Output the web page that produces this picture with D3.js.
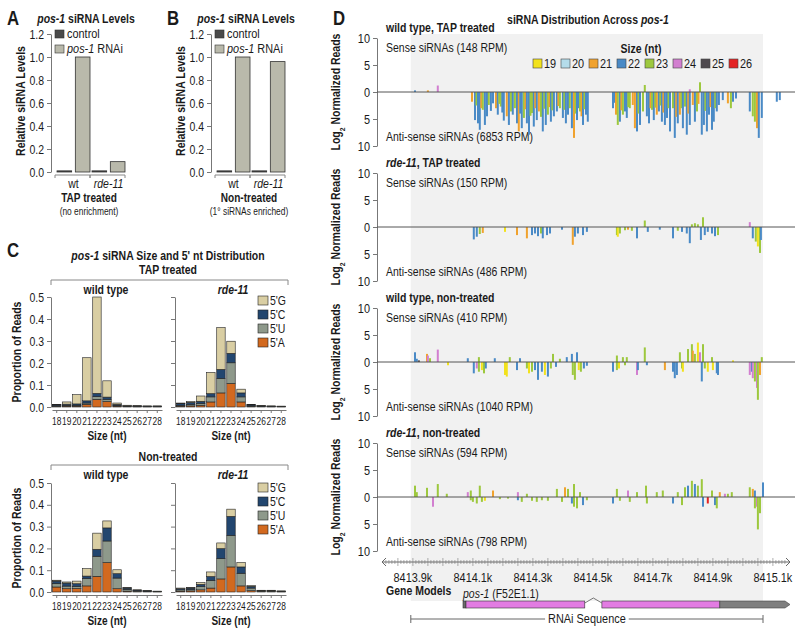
<!DOCTYPE html>
<html><head><meta charset="utf-8">
<script src="https://cdn.jsdelivr.net/npm/d3@7"></script>
<style>
body{margin:0;background:#fff}
svg{display:block}
text{font-family:'Liberation Sans',Arial,sans-serif;fill:#1a1a1a}
</style>
</head><body><svg id="c" width="800" height="631"></svg>
<script>
// ---------------- DATA ----------------
// Panels A/B
const levelGroups = ["wt", "rde-11"];
const levelSeries = ["control", "pos-1 RNAi"];
const levelsTAP = [[0.01, 1.0], [0.01, 0.09]];
const levelsNT = [[0.01, 1.0], [0.01, 0.96]];
const levelTicks = [0, 0.2, 0.4, 0.6, 0.8, 1.0, 1.2];

// Panel C (proportion of reads by size; stacked 5' nt)
const sizesNt = [18, 19, 20, 21, 22, 23, 24, 25, 26, 27, 28];
const propTicks = [0, 0.1, 0.2, 0.3, 0.4, 0.5];
const wtTAP_A = [0.003,0.004,0.004,0.012,0.035,0.025,0.004,0.002,0.001,0.001,0.001];
const wtTAP_U = [0.003,0.004,0.004,0.006,0.012,0.010,0.003,0.002,0.001,0.001,0.001];
const wtTAP_C = [0.004,0.005,0.006,0.010,0.015,0.010,0.005,0.002,0.002,0.002,0.002];
const wtTAP_G = [0.002,0.010,0.042,0.196,0.438,0.074,0.006,0.002,0.002,0.001,0.001];
const rdeTAP_A = [0.004,0.005,0.008,0.023,0.064,0.107,0.023,0.003,0.002,0.001,0.001];
const rdeTAP_U = [0.004,0.006,0.008,0.023,0.066,0.094,0.023,0.003,0.002,0.001,0.001];
const rdeTAP_C = [0.007,0.010,0.010,0.015,0.041,0.043,0.018,0.004,0.002,0.002,0.001];
const rdeTAP_G = [0.003,0.004,0.024,0.096,0.190,0.055,0.017,0.002,0.001,0.001,0.001];
const wtNT_A = [0.023,0.015,0.016,0.028,0.072,0.135,0.015,0.004,0.002,0.002,0.001];
const wtNT_U = [0.015,0.012,0.010,0.034,0.092,0.099,0.049,0.008,0.004,0.002,0.001];
const wtNT_C = [0.012,0.014,0.012,0.011,0.032,0.060,0.020,0.006,0.003,0.002,0.001];
const wtNT_G = [0.004,0.005,0.012,0.034,0.074,0.032,0.018,0.002,0.001,0.001,0.001];
const rdeNT_A = [0.004,0.005,0.010,0.018,0.060,0.115,0.028,0.006,0.002,0.002,0.001];
const rdeNT_U = [0.006,0.006,0.015,0.035,0.093,0.145,0.058,0.012,0.003,0.003,0.002];
const rdeNT_C = [0.006,0.007,0.010,0.018,0.046,0.087,0.029,0.008,0.002,0.002,0.001];
const rdeNT_G = [0.002,0.002,0.008,0.021,0.026,0.033,0.020,0.003,0.001,0.001,0.001];

// Panel D: siRNA reads along pos-1; [offset from 8413900 bp, signed log2 reads, size nt]
const GENOME_START = 8413900;
const genomeDomain = [8413797, 8415157];
const coordTicks = [8413900, 8414100, 8414300, 8414500, 8414700, 8414900, 8415100];
const readTicks = [-10, -5, 0, 5, 10];
const legendSizes = [19, 20, 21, 22, 23, 24, 25, 26];
const senseRPM = [148, 150, 410, 594];
const antiRPM = [6853, 486, 1040, 798];
const readsWtTAP = [
[7,0.3,22],[50,0.3,21],[83,1.2,24],
[197,-1.8,21],[207,-5.2,22],[212,-2.5,23],[217,-5.8,22],[223,-7.0,22],[228,-3.0,21],[233,-3.3,23],[240,-6.1,22],[247,-4.5,22],[253,-2.4,23],[260,-3.5,22],[267,-2.1,22],[277,-3.0,21],[283,-4.2,22],[288,-2.2,23],[293,-2.7,23],[298,-3.8,22],[303,-5.3,22],[313,-4.5,21],[320,-6.1,22],[327,-3.6,23],[333,-4.2,22],[340,-3.0,23],[347,-5.8,22],[353,-7.3,21],[358,-4.0,22],[363,-6.7,22],[370,-4.8,23],[375,-3.2,21],[380,-5.8,22],[387,-7.9,22],[392,-4.4,23],[397,-3.9,23],[403,-6.4,22],[408,-3.0,21],[413,-5.2,22],[420,-3.6,21],[427,-4.6,23],[433,-7.3,22],[438,-3.1,23],[443,-6.1,22],[450,-4.2,23],[455,-2.8,21],[460,-5.5,22],[465,-3.4,23],[470,-4.5,22],[480,-3.6,22],[485,-2.6,21],[490,-3.0,23],[500,-4.8,22],[505,-3.3,23],[510,-5.8,22],[517,-4.2,22],[523,-3.0,23],[530,-6.7,22],[537,-8.5,21],[542,-4.0,23],[547,-5.2,22],[552,-3.0,22],[557,-3.6,23],[562,-4.5,21],[567,-6.1,22],[572,-3.2,23],[577,-4.2,22],[583,-5.5,22],
[667,-3.0,22],[672,-2.0,22],[677,-4.2,21],[683,-6.1,23],[690,-5.5,22],[695,-3.4,21],[700,-4.2,23],[707,-3.6,22],[713,-4.8,22],[718,-2.8,23],[723,-3.0,23],[733,-2.4,21],[740,-6.7,21],[747,-7.3,22],[752,-4.0,23],[757,-6.1,22],[767,-3.6,23],[773,1.3,23],[780,-4.5,22],[787,-5.8,22],[792,-3.0,21],[797,-3.3,23],[803,-5.2,22],[808,-2.9,23],[813,-4.2,21],[820,-3.6,22],[825,-2.5,23],[830,-5.5,22],[835,-3.8,21],[840,-6.1,22],[847,-4.8,22],[852,-3.0,23],[857,-7.3,22],[867,-3.0,23],[873,-8.5,22],[878,-4.6,21],[883,-5.8,22],[890,-4.2,21],[895,-3.0,23],[900,-6.7,22],[907,-2.7,23],[913,-7.9,22],[918,-4.0,21],[923,-6.1,22],[923,0.5,24],[933,-2.4,21],[940,-5.5,22],[947,-3.6,23],[952,-2.2,21],[957,1.8,23],[963,-7.9,22],[970,-6.1,22],[975,-3.5,23],[980,-7.3,22],[987,-4.2,22],[992,-2.8,21],[997,-7.0,22],[1003,-5.5,22],[1008,-3.0,23],[1013,-3.6,22],[1020,-2.4,22],[1033,-1.5,22],[1050,-2.1,21],[1060,-3.0,23],[1067,-1.8,22],[1077,-1.2,22],[1123,-3.6,22],[1133,-4.5,23],[1140,-5.5,23],[1147,-6.7,21],[1153,-8.5,22],[1163,-4.8,22],[1213,-1.8,22],[1223,-1.5,22]
];
const readsRdeTAP = [
[203,-2.3,22],[213,-1.8,22],[223,-1.3,23],[233,-1.1,21],[307,-0.9,19],[347,-1.5,21],[380,-2.1,21],[397,-1.5,22],[407,-1.2,22],[417,-1.7,22],[427,-1.2,23],[433,-2.1,22],[447,-1.5,22],[457,-1.2,22],[497,-0.5,22],[533,-3.3,21],[540,-1.8,22],[550,-1.2,22],[567,-1.5,22],[580,-0.9,22],[680,-1.5,23],[683,-1.8,19],[690,-1.2,23],[707,-0.6,23],[717,-0.5,21],[730,-0.7,23],[747,-2.1,22],[773,1.2,23],[783,-0.9,22],[823,-0.5,22],[867,-2.1,22],[883,-0.7,23],[897,-0.9,22],[913,-1.2,22],[923,-3.0,22],[930,0.5,23],[940,0.7,23],[950,0.5,23],[960,-2.4,22],[967,1.8,23],[973,-1.5,22],[983,-0.9,22],[997,-1.2,22],[1007,-1.7,22],[1017,-1.5,23],[1123,0.9,24],[1133,-2.1,22],[1143,-2.7,23],[1150,-3.6,19],[1157,-4.8,23],[1160,-2.4,22]
];
const readsWtNT = [
[7,1.8,22],[13,0.6,22],[20,0.3,25],[47,1.5,21],[50,1.2,24],[57,0.7,23],[83,2.3,24],[117,-0.6,19],[183,0.7,22],[203,-2.1,22],[213,-1.2,24],[220,-1.8,23],[220,0.9,23],[230,-1.5,19],[237,-2.1,23],[243,-1.2,22],[273,0.7,22],[307,-2.4,19],[313,-2.7,19],[323,0.9,23],[347,-1.5,22],[357,0.7,22],[380,-1.2,23],[387,-2.1,19],[397,-1.8,23],[407,-1.5,22],[417,-3.3,22],[430,-1.8,22],[440,-2.4,19],[450,-2.7,22],[460,-1.2,23],[467,1.5,23],[477,-0.9,22],[490,0.6,23],[513,0.9,22],[530,1.5,22],[533,-2.4,23],[540,-3.3,23],[547,1.8,22],[553,-1.5,19],[560,-1.8,23],[570,-1.2,22],[580,-0.7,22],[667,-1.8,22],[680,1.2,23],[680,-1.5,23],[687,-1.2,19],[700,0.9,23],[707,-0.6,23],[713,0.9,23],[747,-2.4,24],[750,-1.5,22],[773,2.7,23],[780,-0.6,22],[840,-1.5,21],[867,-1.8,22],[873,-3.0,22],[880,-2.4,22],[890,1.8,23],[897,-1.2,23],[900,-1.8,19],[917,2.4,23],[930,3.3,23],[933,2.1,21],[940,1.5,23],[950,3.6,19],[957,1.8,24],[963,-3.6,22],[967,3.3,23],[973,-1.2,23],[983,-1.8,19],[997,0.9,23],[1000,-1.5,19],[1013,-2.1,22],[1017,-2.4,22],[1067,0.3,19],[1123,-2.4,24],[1130,-1.8,22],[1133,-3.0,24],[1140,-3.6,23],[1147,-4.8,24],[1150,-7.0,23],[1157,-2.4,21],[1163,0.9,23]
];
const readsRdeNT = [
[7,2.1,23],[13,0.9,23],[47,1.7,23],[67,-1.8,24],[83,2.4,23],[113,0.6,23],[183,0.9,24],[193,1.2,23],[193,-0.6,23],[200,-0.9,23],[213,-1.2,23],[223,2.1,23],[230,-0.9,23],[240,-0.7,19],[267,1.2,21],[290,-0.4,23],[317,-0.3,23],[350,0.9,24],[350,-0.6,22],[363,-0.9,23],[380,0.6,23],[397,-0.7,23],[413,-0.9,23],[430,-0.6,23],[450,-0.7,23],[480,1.5,23],[497,-0.9,23],[507,1.8,21],[517,1.5,23],[530,-1.2,22],[537,2.4,23],[537,-1.8,23],[547,-2.1,23],[557,0.9,23],[567,-1.5,22],[580,-0.6,23],[667,-1.2,22],[680,1.5,23],[690,-0.7,23],[717,1.2,24],[723,-0.9,23],[747,0.9,23],[777,2.1,23],[780,-1.2,23],[813,0.9,23],[833,1.2,23],[867,-1.2,22],[883,0.9,23],[897,-1.5,23],[907,1.8,23],[917,2.1,22],[930,3.0,23],[940,2.4,22],[950,2.1,23],[963,3.3,23],[967,-1.8,22],[983,-1.2,26],[997,1.2,23],[1007,-1.5,22],[1013,-2.1,23],[1023,0.9,21],[1040,0.6,24],[1050,0.6,23],[1063,0.9,23],[1123,1.8,23],[1133,1.5,21],[1140,1.2,22],[1140,-2.1,23],[1147,-1.8,24],[1150,-6.0,23],[1157,-3.0,23],[1167,2.7,22]
];
// Gene model (offsets from GENOME_START)
const geneUTR5 = [167, 177];
const geneExons = [[177, 573], [630, 1023]];
const geneIntron = [573, 630];
const geneUTR3 = [1023, 1257];
const rnaiRegion = [-7, 1167];

// ---------------- DRAW ----------------
const svg = d3.select("#c");
const FF = "'Liberation Sans',Arial,sans-serif";
const SX = 0.84; // horizontal condensing of the narrow figure font
function rich(g, x, y, parts, o = {}) {
  const tr = `translate(${x},${y})` + (o.rotate ? " rotate(-90)" : "") + ` scale(${SX},1)`;
  const t = g.append("text").attr("x", 0).attr("y", 0).attr("transform", tr)
    .attr("font-size", o.size || 12).attr("text-anchor", o.anchor || "start")
    .attr("font-weight", o.weight || "normal");
  parts.forEach(p => {
    const s = t.append("tspan").text(p[0]);
    const st = p[1] || "";
    if (st.includes("i")) s.attr("font-style", "italic");
    if (st.includes("b")) s.attr("font-weight", "bold");
    if (st.includes("s")) s.attr("baseline-shift", "sub").attr("font-size", (o.size || 12) * 0.65);
  });
  return t;
}
function styleAxis(sel, fs) {
  sel.selectAll("text").attr("font-size", fs).attr("font-family", FF).attr("fill", "#1a1a1a")
    .each(function () {
      const t = d3.select(this);
      const x = +t.attr("x") || 0;
      t.attr("x", x / SX).attr("transform", `scale(${SX},1)`);
    });
  sel.selectAll("line").attr("stroke", "#777");
  sel.selectAll("path.domain").attr("stroke", "#777");
}
function bracket(g, x1, x2, y, h) {
  g.append("path").attr("d", `M${x1},${y + h}V${y}H${x2}V${y + h}`)
    .attr("fill", "none").attr("stroke", "#888").attr("stroke-width", 1);
}

// ---- Panels A & B ----
function levelPanel(ox, letter, vals, sub1, sub2) {
  const g = svg.append("g").attr("transform", `translate(${ox},0)`);
  rich(g, 7, 25, [[letter, "b"]], { size: 20 });
  rich(g, 86, 23, [["pos-1", "bi"], [" siRNA Levels", "b"]], { size: 12.5, anchor: "middle" });
  const y = d3.scaleLinear().domain([0, 1.2]).range([172, 34]);
  const ax = g.append("g").attr("transform", "translate(51,0)")
    .call(d3.axisLeft(y).tickValues(levelTicks).tickFormat(d3.format(".1f")).tickSize(4).tickSizeOuter(0).tickPadding(3));
  styleAxis(ax, 12.5);
  rich(g, 25, 101, [["Relative siRNA Levels", "b"]], { size: 12.5, anchor: "middle", rotate: true });
  const x0 = d3.scaleBand().domain(levelGroups).range([56, 126]);
  const x1 = d3.scaleBand().domain(levelSeries).range([1, 34]).paddingInner(0.2);
  const fills = ["#4a4a4a", "#b9b9ab"];
  levelGroups.forEach((grp, gi) => {
    levelSeries.forEach((s, si) => {
      g.append("rect").attr("x", x0(grp) + x1(s)).attr("width", x1.bandwidth())
        .attr("y", y(vals[gi][si])).attr("height", y(0) - y(vals[gi][si]))
        .attr("fill", fills[si]).attr("stroke", "#333").attr("stroke-width", 0.8);
    });
    bracket(g, x0(grp) - 1, x0(grp) + x0.bandwidth() - 1, 175, 3);
    rich(g, x0(grp) + x0.bandwidth() / 2, 188, [[grp, gi ? "i" : ""]], { size: 12.5, anchor: "middle" });
  });
  // legend
  levelSeries.forEach((s, si) => {
    const ly = 30 + si * 15;
    g.append("rect").attr("x", 55).attr("y", ly).attr("width", 9).attr("height", 8)
      .attr("fill", fills[si]).attr("stroke", "#333").attr("stroke-width", 0.6);
    const parts = si ? [["pos-1", "i"], [" RNAi", ""]] : [["control", ""]];
    rich(g, 67, ly + 8, parts, { size: 13 });
  });
  rich(g, 89, 202, [[sub1, "b"]], { size: 12, anchor: "middle" });
  rich(g, 89, 215, sub2, { size: 10, anchor: "middle" });
}
levelPanel(0, "A", levelsTAP, "TAP treated", [["(no enrichment)", ""]]);
levelPanel(160, "B", levelsNT, "Non-treated", [["(1° siRNAs enriched)", ""]]);

// ---- Panel C ----
const nucKeys = ["A", "U", "C", "G"];
const nucColors = { A: "#d2691f", U: "#8e998b", C: "#22466f", G: "#d9cea3" };
function makeRows(A, U, C, G) {
  return sizesNt.map((s, i) => ({ size: s, A: A[i], U: U[i], C: C[i], G: G[i] }));
}
const stack = d3.stack().keys(nucKeys);
function stackPlot(g, ox, y, axisY, rows, labels) {
  const x = d3.scaleBand().domain(sizesNt).range([ox + 1, ox + 111]).paddingInner(0.16).paddingOuter(0.05);
  const ax = g.append("g").attr("transform", `translate(${ox},0)`)
    .call(d3.axisLeft(y).tickValues(propTicks).tickFormat(labels ? d3.format(".1f") : "").tickSize(4).tickSizeOuter(0).tickPadding(3));
  styleAxis(ax, 12.5);
  const series = stack(rows);
  series.forEach(s => {
    g.selectAll(null).data(s).join("rect")
      .attr("x", d => x(d.data.size)).attr("width", x.bandwidth())
      .attr("y", d => y(d[1])).attr("height", d => Math.max(0, y(d[0]) - y(d[1])))
      .attr("fill", nucColors[s.key]).attr("stroke", "#222").attr("stroke-width", 0.6);
  });
  const bx = g.append("g").attr("transform", `translate(0,${axisY})`)
    .call(d3.axisBottom(x).tickSize(3).tickSizeOuter(0).tickPadding(5));
  styleAxis(bx, 10);
  rich(g, ox + 56, axisY + 30, [["Size (nt)", "b"]], { size: 12, anchor: "middle" });
}
function nucLegend(g, top) {
  ["G", "C", "U", "A"].forEach((k, i) => {
    g.append("rect").attr("x", 258).attr("y", top + i * 14).attr("width", 10).attr("height", 9)
      .attr("fill", nucColors[k]).attr("stroke", "#222").attr("stroke-width", 0.6);
    rich(g, 270, top + i * 14 + 9, [["5'" + k, ""]], { size: 12.5 });
  });
}
{
  const g = svg.append("g");
  rich(g, 7, 257, [["C", "b"]], { size: 20 });
  rich(g, 168, 260, [["pos-1", "bi"], [" siRNA Size and 5' nt Distribution", "b"]], { size: 12.5, anchor: "middle" });
  // TAP treated
  rich(g, 168, 274, [["TAP treated", "b"]], { size: 12.5, anchor: "middle" });
  bracket(g, 51, 288, 280, 5);
  rich(g, 106, 294, [["wild type", "b"]], { size: 12.5, anchor: "middle" });
  rich(g, 233, 294, [["rde-11", "bi"]], { size: 12.5, anchor: "middle" });
  const yT = d3.scaleLinear().domain([0, 0.5]).range([407, 297]);
  stackPlot(g, 51, yT, 410, makeRows(wtTAP_A, wtTAP_U, wtTAP_C, wtTAP_G), true);
  stackPlot(g, 175, yT, 410, makeRows(rdeTAP_A, rdeTAP_U, rdeTAP_C, rdeTAP_G), false);
  rich(g, 21, 352, [["Proportion of Reads", "b"]], { size: 12.5, anchor: "middle", rotate: true });
  nucLegend(g, 296);
  // Non-treated
  rich(g, 168, 461, [["Non-treated", "b"]], { size: 12.5, anchor: "middle" });
  bracket(g, 51, 288, 465, 5);
  rich(g, 106, 479, [["wild type", "b"]], { size: 12.5, anchor: "middle" });
  rich(g, 233, 479, [["rde-11", "bi"]], { size: 12.5, anchor: "middle" });
  const yN = d3.scaleLinear().domain([0, 0.5]).range([592, 483]);
  stackPlot(g, 51, yN, 595, makeRows(wtNT_A, wtNT_U, wtNT_C, wtNT_G), true);
  stackPlot(g, 175, yN, 595, makeRows(rdeNT_A, rdeNT_U, rdeNT_C, rdeNT_G), false);
  rich(g, 21, 538, [["Proportion of Reads", "b"]], { size: 12.5, anchor: "middle", rotate: true });
  nucLegend(g, 483);
}

// ---- Panel D ----
const sizeColors = { 19: "#f2e21c", 20: "#b4dcea", 21: "#f0a22e", 22: "#4a8ac6", 23: "#9dc83e", 24: "#d27fd0", 25: "#4f4a4f", 26: "#e32424" };
const gx = d3.scaleLinear().domain(genomeDomain).range([382, 790]);
{
  const g = svg.append("g");
  // shaded RNAi region
  g.append("rect").attr("x", gx(GENOME_START + rnaiRegion[0])).attr("y", 34)
    .attr("width", gx(GENOME_START + rnaiRegion[1]) - gx(GENOME_START + rnaiRegion[0])).attr("height", 567)
    .attr("fill", "#f1f1f1");
  rich(g, 333, 25, [["D", "b"]], { size: 20 });
  rich(g, 588, 24, [["siRNA Distribution Across ", "b"], ["pos-1", "bi"]], { size: 12.5, anchor: "middle" });
  const titles = [
    [["wild type, TAP treated", "b"]],
    [["rde-11", "bi"], [", TAP treated", "b"]],
    [["wild type, non-treated", "b"]],
    [["rde-11", "bi"], [", non-treated", "b"]]
  ];
  const tracks = [readsWtTAP, readsRdeTAP, readsWtNT, readsRdeNT];
  const zeros = [92, 227, 362, 497];
  tracks.forEach((reads, ti) => {
    const z = zeros[ti];
    const y = d3.scaleLinear().domain([-10, 10]).range([z + 54, z - 54]);
    const ax = g.append("g").attr("transform", "translate(377,0)")
      .call(d3.axisLeft(y).tickValues(readTicks).tickFormat(d => Math.abs(d)).tickSize(4).tickSizeOuter(0).tickPadding(3));
    styleAxis(ax, 13);
    rich(g, 340, z, [["Log", "b"], ["2", "bs"], [" Normalized Reads", "b"]], { size: 12.5, anchor: "middle", rotate: true });
    rich(g, 386, z - 60, titles[ti], { size: 12.5 });
    rich(g, 386, z - 40, [[`Sense siRNAs (${senseRPM[ti]} RPM)`, ""]], { size: 12.5 });
    rich(g, 386, z + 49, [[`Anti-sense siRNAs (${antiRPM[ti]} RPM)`, ""]], { size: 12.5 });
    g.selectAll(null).data(reads).join("rect")
      .attr("x", d => gx(GENOME_START + d[0]) - 1).attr("width", 2)
      .attr("y", d => Math.min(y(d[1]), y(0))).attr("height", d => Math.abs(y(d[1]) - y(0)))
      .attr("fill", d => sizeColors[d[2]]);
    g.append("line").attr("x1", 377).attr("x2", 795).attr("y1", y(0)).attr("y2", y(0))
      .attr("stroke", "#555").attr("stroke-width", 1);
  });
  // size legend
  rich(g, 641, 53, [["Size (nt)", "b"]], { size: 12.5, anchor: "middle" });
  legendSizes.forEach((s, i) => {
    const lx = 533 + i * 28;
    g.append("rect").attr("x", lx).attr("y", 59).attr("width", 9).attr("height", 9)
      .attr("fill", sizeColors[s]).attr("stroke", "#444").attr("stroke-width", 0.6);
    rich(g, lx + 11, 68, [[String(s), ""]], { size: 13 });
  });
  // coordinate ruler
  const ry = 562;
  g.append("line").attr("x1", 383).attr("x2", 789).attr("y1", ry).attr("y2", ry).attr("stroke", "#666");
  const minor = d3.range(8413810, 8415150, 10);
  g.selectAll(null).data(minor).join("line")
    .attr("x1", d => gx(d)).attr("x2", d => gx(d))
    .attr("y1", d => d % 50 === 0 ? ry - 4 : ry - 2).attr("y2", d => d % 50 === 0 ? ry + 4 : ry + 2)
    .attr("stroke", "#777").attr("stroke-width", 0.6);
  g.append("path").attr("d", `M${gx(genomeDomain[0]) + 4},${ry - 4}L${gx(genomeDomain[0])},${ry}L${gx(genomeDomain[0]) + 4},${ry + 4}`)
    .attr("fill", "none").attr("stroke", "#666");
  g.append("path").attr("d", `M${gx(genomeDomain[1]) - 4},${ry - 4}L${gx(genomeDomain[1])},${ry}L${gx(genomeDomain[1]) - 4},${ry + 4}`)
    .attr("fill", "none").attr("stroke", "#666");
  coordTicks.forEach(v => {
    rich(g, gx(v), 582, [[(v / 1000).toFixed(1) + "k", ""]], { size: 13, anchor: "middle" });
  });
  rich(g, 386, 595, [["Gene Models", "b"]], { size: 12.5 });
  rich(g, gx(GENOME_START + geneUTR5[0]), 598, [["pos-1", "i"], [" (F52E1.1)", ""]], { size: 12.5 });
  const gy = 601, gh = 7;
  g.append("rect").attr("x", gx(GENOME_START + geneUTR5[0])).attr("y", gy)
    .attr("width", gx(GENOME_START + geneUTR5[1]) - gx(GENOME_START + geneUTR5[0])).attr("height", gh)
    .attr("fill", "#6b6b6b").attr("stroke", "#333").attr("stroke-width", 0.6);
  geneExons.forEach(e => {
    g.append("rect").attr("x", gx(GENOME_START + e[0])).attr("y", gy)
      .attr("width", gx(GENOME_START + e[1]) - gx(GENOME_START + e[0])).attr("height", gh)
      .attr("fill", "#e27ce2").attr("stroke", "#333").attr("stroke-width", 0.6);
  });
  const i0 = gx(GENOME_START + geneIntron[0]), i1 = gx(GENOME_START + geneIntron[1]);
  g.append("path").attr("d", `M${i0},${gy + 2}L${(i0 + i1) / 2},${gy - 3}L${i1},${gy + 2}`)
    .attr("fill", "none").attr("stroke", "#555").attr("stroke-width", 0.8);
  const u0 = gx(GENOME_START + geneUTR3[0]), u1 = gx(GENOME_START + geneUTR3[1]);
  g.append("path").attr("d", `M${u0},${gy}H${u1 - 5}L${u1},${gy + gh / 2}L${u1 - 5},${gy + gh}H${u0}Z`)
    .attr("fill", "#7f7f7f").attr("stroke", "#444").attr("stroke-width", 0.6);
  // RNAi sequence bracket
  const r0 = gx(GENOME_START + rnaiRegion[0]), r1 = gx(GENOME_START + rnaiRegion[1]);
  const rty = 619;
  const rt = rich(g, (r0 + r1) / 2, rty + 4, [["RNAi Sequence", ""]], { size: 13, anchor: "middle" });
  const tw = rt.node().getComputedTextLength() * SX;
  const mid = (r0 + r1) / 2;
  g.append("path").attr("d", `M${r0},${rty - 4}V${rty + 4}M${r0},${rty}H${mid - tw / 2 - 3}M${mid + tw / 2 + 3},${rty}H${r1}M${r1},${rty - 4}V${rty + 4}`)
    .attr("fill", "none").attr("stroke", "#666");
}
</script>
</body></html>
